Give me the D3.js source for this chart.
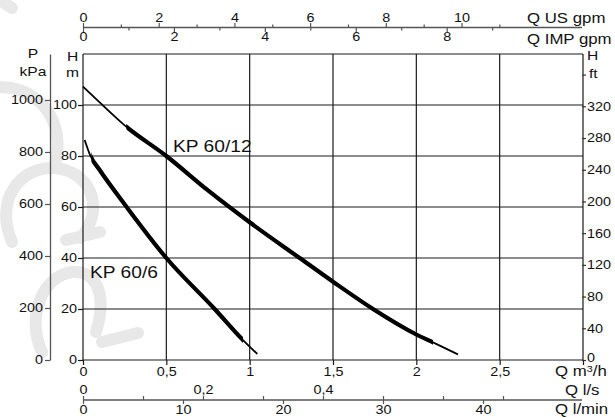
<!DOCTYPE html>
<html>
<head>
<meta charset="utf-8">
<script src="https://cdn.jsdelivr.net/npm/d3@7"></script>
<style>
  body { margin: 0; background: #fff; }
  svg text { font-family: "Liberation Sans", Arial, sans-serif; fill: #111; }
</style>
</head>
<body>
<svg id="chart" width="615" height="418"></svg>
<script>
// pump curves, Q in m3/h, H in m
var kp12Q = [0, 0.1, 0.25, 0.5, 0.75, 1.0, 1.3, 1.5, 1.74, 2.0, 2.1, 2.25];
var kp12H = [107.2, 101, 92, 80, 66.5, 54, 40, 30.7, 20, 10, 6.9, 2.2];
var kp6Q = [0.01, 0.045, 0.1, 0.262, 0.5, 0.79, 0.96, 1.046];
var kp6H = [86.3, 80, 74.5, 60, 40, 20, 7.8, 2.35];

// tick values
var qTicks = [0, 0.5, 1, 1.5, 2, 2.5, 3];
var qLabels = [0, 0.5, 1, 1.5, 2, 2.5];
var hTicks = [0, 20, 40, 60, 80, 100, 120];
var hLabels = [0, 20, 40, 60, 80, 100];
var kpaTicks = [0, 200, 400, 600, 800, 1000];
var ftTicks = [0, 40, 80, 120, 160, 200, 240, 280, 320];
var usTicks = [0, 1, 2, 3, 4, 5, 6, 7, 8, 9, 10, 11];
var impTicks = [0, 1, 2, 3, 4, 5, 6, 7, 8, 9];
var lsTicks = [0, 0.1, 0.2, 0.3, 0.4, 0.5, 0.6, 0.7];
var lsLabels = [0, 0.2, 0.4];
var lminTicks = [0, 10, 20, 30, 40];

var SX = 1.2; // the original type is a bit stretched sideways
var svg = d3.select("#chart");

var x = d3.scaleLinear().domain([0, 3]).range([83, 583]);
var y = d3.scaleLinear().domain([0, 120]).range([360, 54]);
var kpa = d3.scaleLinear().domain([0, 120 * 9.807]).range([360, 54]);
var ft = d3.scaleLinear().domain([0, 386]).range([360, 54]);
var us = d3.scaleLinear().domain([0, 3 * 4.4029]).range([83, 583]);
var imp = d3.scaleLinear().domain([0, 3 * 3.6662]).range([83, 583]);
var ls = d3.scaleLinear().domain([0, 3 / 3.6]).range([83, 583]);
var lmin = d3.scaleLinear().domain([0, 50]).range([83, 583]);

var comma = function (v) { return String(v).replace(".", ","); };

function label(x0, y0, s, size, anchor) {
  return svg.append("text")
    .attr("transform", "translate(" + x0 + "," + y0 + ") scale(" + SX + ",1)")
    .attr("text-anchor", anchor || "start")
    .attr("font-size", size)
    .text(s);
}

// faint watermark on the left
var wm = svg.append("g").attr("fill", "none").attr("stroke", "#e8e8e8")
  .attr("stroke-width", 12).attr("stroke-linecap", "round");
wm.append("path").attr("d", "M-6,88 C28,82 66,112 56,160");
wm.append("path").attr("d", "M0,0 L12,8");
wm.append("path").attr("d", "M12,242 C-6,200 20,166 55,168 C95,172 104,214 80,238");
wm.append("path").attr("d", "M66,240 L100,232");
wm.append("path").attr("d", "M42,352 C26,318 42,276 72,272 C100,270 106,300 96,332");
wm.append("path").attr("d", "M102,342 L138,333");

// grid
var grid = svg.append("g").attr("stroke", "#1a1a1a").attr("stroke-width", 1.2);
grid.selectAll(".vg").data(qTicks).enter().append("line")
  .attr("x1", d => x(d)).attr("x2", d => x(d))
  .attr("y1", y(120)).attr("y2", y(0));
grid.selectAll(".hg").data(hTicks).enter().append("line")
  .attr("x1", x(0)).attr("x2", x(3))
  .attr("y1", d => y(d)).attr("y2", d => y(d));

function styleAxis(g, col) {
  g.select(".domain").attr("stroke", col).attr("stroke-width", 1.3);
  g.selectAll(".tick line").attr("stroke", col).attr("stroke-width", 1.2);
  g.selectAll(".tick text").attr("fill", "#111").attr("font-size", 12)
    .attr("font-family", "Liberation Sans, Arial, sans-serif")
    .each(function () {
      var t = d3.select(this);
      t.attr("x", (+t.attr("x") || 0) / SX).attr("transform", "scale(" + SX + ",1)");
    });
}

// bottom m3/h axis
var gq = svg.append("g").attr("transform", "translate(0,360)")
  .call(d3.axisBottom(x).tickValues(qTicks).tickSize(5).tickPadding(2)
    .tickFormat(d => qLabels.indexOf(d) >= 0 ? comma(d) : ""));
gq.select(".domain").remove();
styleAxis(gq, "#1a1a1a");

// left H m axis
var gh = svg.append("g").attr("transform", "translate(83,0)")
  .call(d3.axisLeft(y).tickValues(hLabels).tickSize(5).tickPadding(1));
gh.select(".domain").remove();
styleAxis(gh, "#1a1a1a");

// left kPa axis
var gk = svg.append("g").attr("transform", "translate(50,0)")
  .call(d3.axisLeft(kpa).tickValues(kpaTicks).tickSize(5).tickPadding(2).tickSizeOuter(0)
    .tickFormat(d3.format("d")));
styleAxis(gk, "#555");

// right ft axis
var gf = svg.append("g").attr("transform", "translate(582,0)")
  .call(d3.axisRight(ft).tickValues(ftTicks.concat([360])).tickSize(4).tickPadding(1).tickSizeOuter(0)
    .tickFormat(d => d === 360 ? "" : d));
gf.select(".domain").remove();
styleAxis(gf, "#333");
gf.selectAll(".tick text").filter(d => d === 0).attr("y", -2.5);

// top flow axes: US gpm above, IMP gpm below
var gus = svg.append("g").attr("transform", "translate(0,27.5)")
  .call(d3.axisTop(us).tickValues(usTicks).tickSize(4).tickSizeOuter(0).tickPadding(2)
    .tickFormat(d => d % 2 === 0 ? d : ""));
gus.selectAll(".tick line").attr("y2", d => d % 2 === 0 ? -4.5 : -3);
gus.select(".domain").attr("d", "M83,0H582");
styleAxis(gus, "#555");
var gimp = svg.append("g").attr("transform", "translate(0,27.5)")
  .call(d3.axisBottom(imp).tickValues(impTicks).tickSize(4).tickSizeOuter(0).tickPadding(1)
    .tickFormat(d => d % 2 === 0 ? d : ""));
gimp.selectAll(".tick line").attr("y2", d => d % 2 === 0 ? 4.5 : 3);
gimp.select(".domain").remove();
styleAxis(gimp, "#555");

// bottom flow axes: l/s above, l/min below
var gls = svg.append("g").attr("transform", "translate(0,400)")
  .call(d3.axisTop(ls).tickValues(lsTicks).tickSize(4).tickSizeOuter(0).tickPadding(2)
    .tickFormat(d => lsLabels.indexOf(d) >= 0 ? comma(d) : ""));
gls.select(".domain").attr("d", "M83,0H582");
styleAxis(gls, "#555");
var glm = svg.append("g").attr("transform", "translate(0,400)")
  .call(d3.axisBottom(lmin).tickValues(lminTicks).tickSize(4).tickSizeOuter(0).tickPadding(1.5));
glm.select(".domain").remove();
styleAxis(glm, "#555");

// axis titles
label(33, 58, "P", 13, "middle");
label(33, 76, "kPa", 13, "middle");
label(72.5, 61, "H", 13, "middle");
label(72.5, 77, "m", 13, "middle");
label(587, 60, "H", 13);
label(589, 78, "ft", 13);
label(527, 23, "Q US gpm", 14);
label(527, 43.5, "Q IMP gpm", 14);
var qm = label(555, 376, "Q m", 14);
qm.append("tspan").attr("font-size", 9).attr("dy", -4).text("3");
qm.append("tspan").attr("dy", 4).text("/h");
label(565, 395, "Q l/s", 14);
label(555, 414, "Q l/min", 14);

// curves: thin overall, thick over the main operating range
var line = d3.line().x(d => x(d[0])).y(d => y(d[1])).curve(d3.curveMonotoneX);
var curves = [
  { q: kp12Q, h: kp12H, from: 0.26, to: 2.1, id: "c12" },
  { q: kp6Q, h: kp6H, from: 0.05, to: 0.96, id: "c6" }
];
var defs = svg.append("defs");
curves.forEach(function (c) {
  var pts = c.q.map((q, i) => [q, c.h[i]]);
  defs.append("clipPath").attr("id", c.id)
    .append("rect").attr("x", x(c.from)).attr("width", x(c.to) - x(c.from))
    .attr("y", 0).attr("height", 418);
  svg.append("path").datum(pts).attr("d", line)
    .attr("fill", "none").attr("stroke", "#000").attr("stroke-width", 1.8);
  svg.append("path").datum(pts).attr("d", line).attr("clip-path", "url(#" + c.id + ")")
    .attr("fill", "none").attr("stroke", "#000").attr("stroke-width", 4.2);
});

label(173, 152, "KP 60/12", 16);
label(90, 278, "KP 60/6", 16);
</script>
</body>
</html>
